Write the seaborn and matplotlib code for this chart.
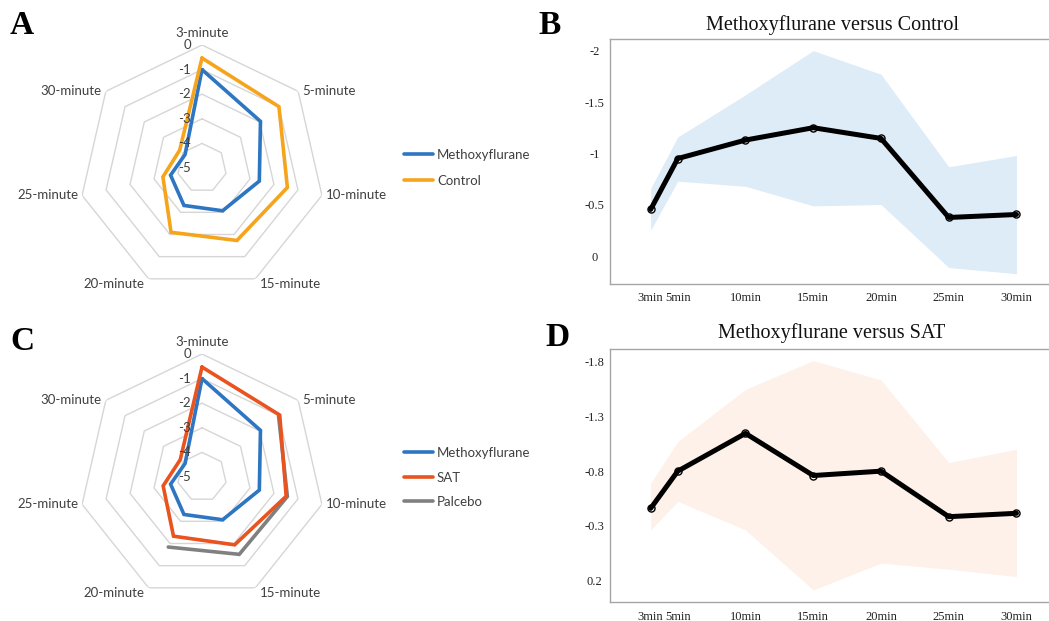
import numpy as np
import matplotlib
matplotlib.use("Agg")
import matplotlib.pyplot as plt
import matplotlib.transforms as mtransforms
import seaborn as sns

sns.set_theme(style="white")
plt.rcParams["font.family"] = ["Lato", "DejaVu Sans"]

# radar panels (A, C)
radar_cats = ["3-minute", "5-minute", "10-minute", "15-minute",
              "20-minute", "25-minute", "30-minute"]
metho_vals = [-1.0, -1.96, -2.61, -3.07, -3.31, -3.69, -4.12]
control_vals = [-0.53, -1.0, -1.44, -1.73, -2.1, -3.37, -3.84]
sat_vals = [-0.53, -0.96, -1.49, -1.94, -2.33, -3.38, -3.87]
placebo_vals = [np.nan, -1.02, -1.44, -1.51, -1.84, np.nan, np.nan]
radar_ticks = [0, -1, -2, -3, -4, -5]

# line panels (B, D)
minutes = [3, 5, 10, 15, 20, 25, 30]
minute_labels = ["3min", "5min", "10min", "15min", "20min", "25min", "30min"]
ctrl_mean = [-0.455, -0.95, -1.13, -1.25, -1.146, -0.377, -0.406]
ctrl_lo = [-0.66, -1.16, -1.57, -2.0, -1.77, -0.87, -0.98]
ctrl_hi = [-0.253, -0.73, -0.68, -0.49, -0.503, 0.11, 0.17]
ctrl_ticks = [-2, -1.5, -1, -0.5, 0]
ctrl_ticklabels = ["-2", "-1.5", "-1", "-0.5", "0"]

sat_mean = [-0.46, -0.80, -1.145, -0.76, -0.80, -0.384, -0.415]
sat_lo = [-0.69, -1.07, -1.547, -1.81, -1.633, -0.878, -1.0]
sat_hi = [-0.263, -0.524, -0.263, 0.285, 0.04, 0.096, 0.163]
sat_ticks = [-1.8, -1.3, -0.8, -0.3, 0.2]
sat_ticklabels = ["-1.8", "-1.3", "-0.8", "-0.3", "0.2"]

BLUE = "#2E75C2"
GOLD = "#F7A41D"
RED = "#E8531F"
GREY = "#808080"
TXT = "#404040"
SERIF = ["Liberation Serif", "DejaVu Serif"]

W, H = 1049, 621
fig = plt.figure(figsize=(W / 100, H / 100), dpi=100)


def radar(rect, series):
    ax = fig.add_axes(rect, projection="polar")
    n = len(radar_cats)
    angles = np.linspace(0, 2 * np.pi, n, endpoint=False)
    closed = np.append(angles, angles[0])
    ax.set_theta_zero_location("N")
    ax.set_theta_direction(-1)
    ax.grid(False)
    ax.spines["polar"].set_visible(False)
    ax.set_facecolor("none")
    for lvl in radar_ticks[:-1]:
        ax.plot(closed, [lvl] * (n + 1), color="#D6D6D6", lw=1, zorder=1)
    for name, vals, color in series:
        v = np.append(vals, vals[0])
        ax.plot(closed, v, color=color, lw=2.6, label=name, zorder=3,
                solid_joinstyle="miter")
    ax.set_ylim(-5, 0)
    ax.set_xticks([])
    ax.set_yticks([])
    # category labels next to the outer vertices, excel style
    for ang, cat in zip(angles, radar_cats):
        sx, cy = np.sin(ang), np.cos(ang)
        if abs(sx) < 0.1:
            ha, va, dx, dy = "center", "bottom", 0, 6
        else:
            ha = "left" if sx > 0 else "right"
            va = "center"
            dx = 4 if sx > 0 else -4
            dy = -5 if cy < -0.5 else 0
        tr = mtransforms.offset_copy(ax.transData, fig=fig, x=dx, y=dy, units="dots")
        ax.text(ang, radar_ticks[0], cat, transform=tr, ha=ha, va=va,
                fontsize=9.5, color=TXT, clip_on=False)
    off = mtransforms.offset_copy(ax.transData, fig=fig, x=-11, y=0, units="dots")
    for t in radar_ticks:
        ax.text(0, t, str(t), transform=off, ha="right", va="center",
                fontsize=9.5, color=TXT, zorder=4)
    return ax


def band_plot(rect, mean, lo, hi, fill, ticks, ticklabels, ylim):
    ax = fig.add_axes(rect)
    ax.fill_between(minutes, lo, hi, color=fill, lw=0, zorder=1)
    sns.scatterplot(x=minutes, y=mean, ax=ax, s=26, color="white",
                    edgecolor="black", linewidth=1, zorder=2)
    sns.lineplot(x=minutes, y=mean, ax=ax, color="black", lw=3.6, zorder=3)
    ax.set_xlim(0, 32.4)
    ax.set_ylim(*ylim)
    ax.set_xticks(minutes)
    ax.set_xticklabels(minute_labels, family=SERIF, fontsize=9, color="#222222")
    ax.set_yticks(ticks)
    ax.set_yticklabels(ticklabels, family=SERIF, fontsize=9, color="#222222",
                       ha="center")
    ax.tick_params(axis="y", length=0, pad=11)
    ax.tick_params(axis="x", length=0, pad=6)
    for s in ["top", "left", "bottom"]:
        ax.spines[s].set_color("#A6A6A6")
        ax.spines[s].set_linewidth(1)
    ax.spines["right"].set_visible(False)
    return ax


# A
r = 123
ax_a = radar([(202 - r) / W, 1 - (168 + r) / H, 2 * r / W, 2 * r / H],
             [("Methoxyflurane", metho_vals, BLUE), ("Control", control_vals, GOLD)])
h, l = ax_a.get_legend_handles_labels()
fig.legend(h, l, loc="center left", bbox_to_anchor=(404 / W, 1 - 168 / H),
           frameon=False, fontsize=9.5, handlelength=2.2, handletextpad=0.3,
           labelspacing=1.05, borderpad=0, borderaxespad=0, labelcolor=TXT)

# C
ax_c = radar([(202 - r) / W, 1 - (477 + r) / H, 2 * r / W, 2 * r / H],
             [("Palcebo", placebo_vals, GREY), ("Methoxyflurane", metho_vals, BLUE),
              ("SAT", sat_vals, RED)])
h, l = ax_c.get_legend_handles_labels()
order = [1, 2, 0]
fig.legend([h[i] for i in order], [l[i] for i in order], loc="center left",
           bbox_to_anchor=(404 / W, 1 - 477.5 / H), frameon=False, fontsize=9.5,
           handlelength=2.2, handletextpad=0.3, labelspacing=0.95, borderpad=0,
           borderaxespad=0, labelcolor=TXT)

# B
band_plot([610 / W, 1 - 284 / H, (W - 610) / W, (284 - 39.3) / H],
          ctrl_mean, ctrl_lo, ctrl_hi, "#DEECF8", ctrl_ticks, ctrl_ticklabels,
          (0.27, -2.11))
fig.text(833 / W, 1 - 25 / H, "Methoxyflurane versus Control", family=SERIF,
         fontsize=14.5, ha="center", va="center", color="#111111")

# D
band_plot([610 / W, 1 - 602.3 / H, (W - 610) / W, (602.3 - 349.3) / H],
          sat_mean, sat_lo, sat_hi, "#FDF1EA", sat_ticks, sat_ticklabels,
          (0.398, -1.913))
fig.text(832 / W, 1 - 333 / H, "Methoxyflurane versus SAT", family=SERIF,
         fontsize=14.5, ha="center", va="center", color="#111111")

# panel letters
for letter, x, y in [("A", 10, 26), ("B", 538, 25), ("C", 10, 342), ("D", 545, 338)]:
    fig.text(x / W, 1 - y / H, letter, family=SERIF, fontsize=24, fontweight="bold",
             ha="left", va="center", color="black")

fig.savefig("out.png", dpi=100, facecolor="white")
